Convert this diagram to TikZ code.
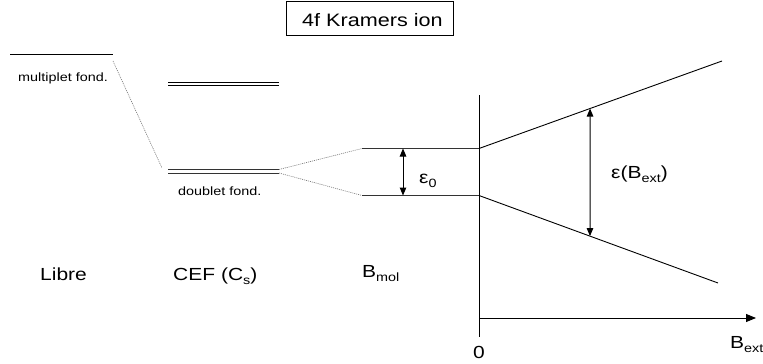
\documentclass[tikz,border=0pt]{standalone}
\usepackage{fontspec}
\setmainfont{Liberation Sans}[FakeStretch=1.2]
\usetikzlibrary{arrows.meta}
\newcommand\subtx[1]{\raisebox{-4pt}{\fontsize{12}{12}\selectfont #1}}
\tikzset{
  lbl/.style={anchor=base west,inner sep=0pt,font=\fontsize{17.5}{20}\selectfont},
  small/.style={anchor=base west,inner sep=0pt,font=\fontsize{12}{14}\selectfont},
  level/.style={line width=0.9pt,draw=black!80},
  dots/.style={draw=black!55,line width=0.6pt,dash pattern=on 1pt off 1pt},
  axis/.style={line width=0.9pt,draw=black},
  gapline/.style={line width=1pt,draw=black,{Triangle[length=8pt,width=6.5pt]}-{Triangle[length=8pt,width=6.5pt]}},
  axisarrow/.style={-{Triangle[length=10pt,width=8pt]}},
}
\begin{document}
\begin{tikzpicture}[x=1pt,y=1pt]
\useasboundingbox (0,0) rectangle (763,-364);
% title box
\node[draw=black,line width=0.8pt,minimum width=167pt,minimum height=34pt,inner sep=0pt] (box) at (369.5,-18) {};
\node[lbl,font=\fontsize{18}{20}\selectfont] (title) at (302,-27) {4f Kramers ion};
% free ion multiplet
\coordinate (m0) at (10,-54); \coordinate (m1) at (113,-54);
\draw[line width=0.9pt] (m0) -- (m1);
\node[small] (mlab) at (18,-81) {multiplet fond.};
% CEF levels
\coordinate (ca0) at (168,-82); \coordinate (ca1) at (279,-82);
\coordinate (cb0) at (168,-85); \coordinate (cb1) at (279,-85);
\coordinate (cc0) at (168,-169.5); \coordinate (cc1) at (279,-169.5);
\coordinate (cd0) at (168,-173); \coordinate (cd1) at (279,-173);
\draw[line width=0.9pt] (ca0) -- (ca1);
\draw[line width=0.9pt] (cb0) -- (cb1);
\draw[level] (cc0) -- (cc1);
\draw[level] (cd0) -- (cd1);
\node[small] (dlab) at (178,-195) {doublet fond.};
% dotted correlation lines
\coordinate (d0) at (113,-61); \coordinate (d1) at (162,-168);
\draw[dots] (d0) -- (d1);
% Bmol levels
\coordinate (u0) at (362,-148.5); \coordinate (u1) at (479,-148.5);
\coordinate (l0) at (362,-195.5); \coordinate (l1) at (479,-195.5);
\draw[dots] (cc1) -- (u0);
\draw[dots] (cd1) -- (l0);
\draw[level] (u0) -- (u1);
\draw[level] (l0) -- (l1);
\coordinate (e0a) at (403,-148.5); \coordinate (e0b) at (403,-195.5);
\draw[gapline] (e0a) -- (e0b);
\node[lbl] (eps0) at (419,-183) {ε\subtx{0}};
% Zeeman fan
\coordinate (u2) at (722,-61); \coordinate (l2) at (718,-283);
\draw[line width=0.9pt] (u1) -- (u2);
\draw[line width=0.9pt] (l1) -- (l2);
\path (u1) -- (u2) coordinate[pos=0.457] (ea);
\path (l1) -- (l2) coordinate[pos=0.4644] (eb);
\draw[gapline] (ea) -- (eb);
\node[lbl] (epsB) at (611,-178) {ε(B\subtx{ext})};
% axes
\coordinate (vt) at (479,-95); \coordinate (vb) at (479,-337);
\coordinate (h0) at (479,-318); \coordinate (h1) at (756,-318);
\draw[axis] (vt) -- (vb);
\draw[axis,axisarrow] (h0) -- (h1);
\node[lbl] (zero) at (473,-358) {0};
\node[lbl] (bext) at (730,-348) {B\subtx{ext}};
% column labels
\node[lbl] (libre) at (40,-280) {Libre};
\node[lbl] (cef) at (173,-280) {CEF (C\subtx{s})};
\node[lbl] (bmol) at (362,-277) {B\subtx{mol}};
\end{tikzpicture}
\end{document}
